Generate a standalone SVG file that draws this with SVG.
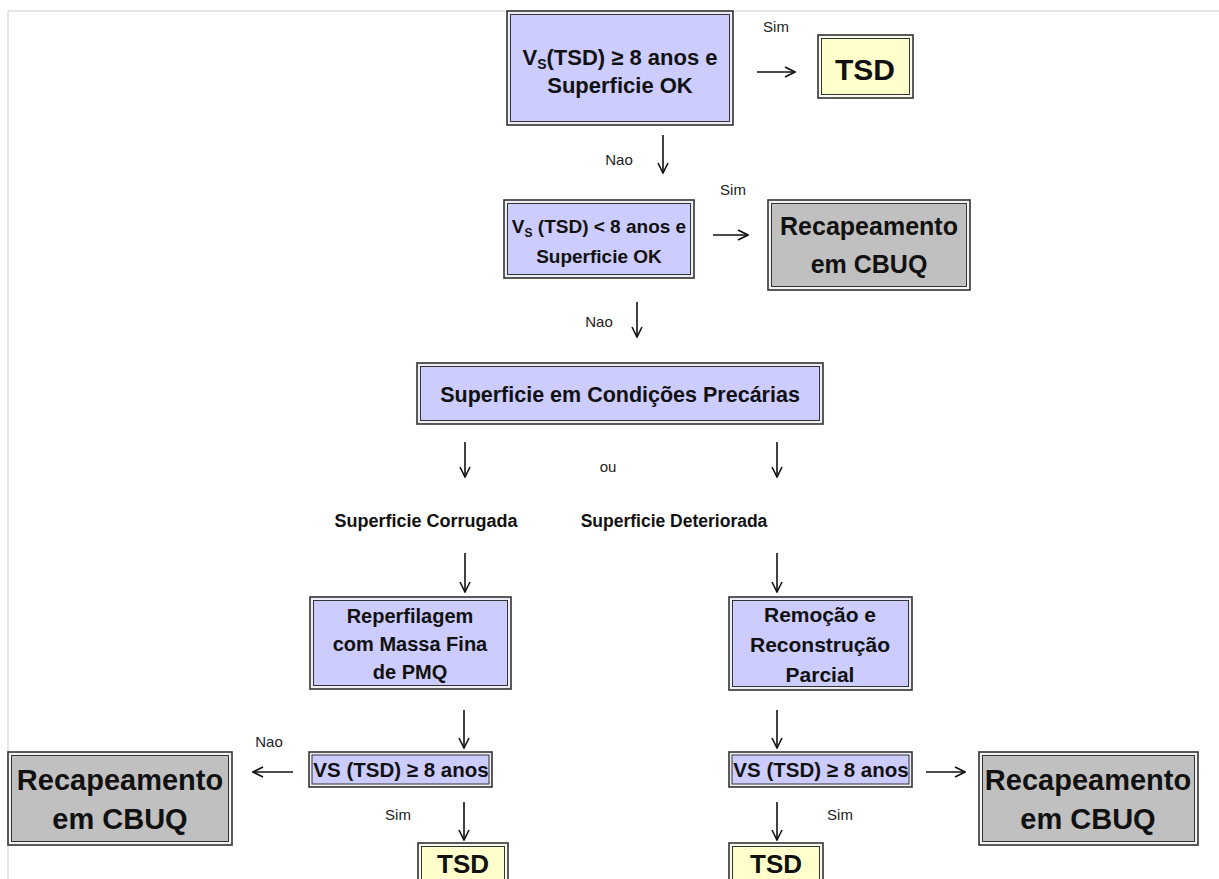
<svg xmlns="http://www.w3.org/2000/svg" width="1219" height="879" viewBox="0 0 1219 879">
<defs>
<marker id="ah" viewBox="0 0 12 12" refX="11" refY="6" markerWidth="12" markerHeight="12" markerUnits="userSpaceOnUse" orient="auto">
<path d="M1,1 L11,6 L1,11" fill="none" stroke="#111" stroke-width="1.6"/>
</marker>
</defs>
<style>
.o{stroke:#333;stroke-width:1.6;fill:#eeeef6}
.ob{stroke:#333;stroke-width:1.6;fill:#f4f4f4}
.oy{stroke:#333;stroke-width:1.6;fill:#fbfbee}
.ib{stroke:#333;stroke-width:1;fill:#ccccff}
.ig{stroke:#333;stroke-width:1;fill:#c0c0c0}
.iy{stroke:#333;stroke-width:1;fill:#ffffcc}
text{font-family:"Liberation Sans",Arial,sans-serif;fill:#111}
.b{font-weight:bold;text-anchor:middle}
.l{font-size:15px;text-anchor:middle;fill:#222}
.c line{stroke:#111;stroke-width:1.6;marker-end:url(#ah)}
</style>
<rect width="1219" height="879" fill="#fff"/>
<path d="M8,879 V11 H1219" fill="none" stroke="#dedede" stroke-width="1.5"/>

<g id="n1">
<rect class="o" x="507" y="11" width="226" height="114"/>
<rect class="ib" x="510.5" y="14.5" width="219" height="107"/>
<text class="b" x="620" y="65" font-size="22">V<tspan font-size="14" dy="4">S</tspan><tspan dy="-4">(TSD) ≥ 8 anos e</tspan></text>
<text class="b" x="620" y="93" font-size="22">Superficie OK</text>
</g>
<g id="n_tsd1">
<rect class="oy" x="818" y="35" width="95" height="63"/>
<rect class="iy" x="821.5" y="38.5" width="88" height="56"/>
<text class="b" x="865" y="80" font-size="30">TSD</text>
</g>
<g id="n2">
<rect class="o" x="504" y="200" width="190" height="78"/>
<rect class="ib" x="507.5" y="203.5" width="183" height="71"/>
<text class="b" x="599" y="233" font-size="19">V<tspan font-size="12" dy="4">S</tspan><tspan dy="-4"> (TSD) &lt; 8 anos e</tspan></text>
<text class="b" x="599" y="263" font-size="19">Superficie OK</text>
</g>
<g id="n_rec1">
<rect class="ob" x="768" y="200" width="202" height="90"/>
<rect class="ig" x="771.5" y="203.5" width="195" height="83"/>
<text class="b" x="869" y="235" font-size="25">Recapeamento</text>
<text class="b" x="869" y="273" font-size="25">em CBUQ</text>
</g>
<g id="n3">
<rect class="o" x="417" y="363" width="406" height="61"/>
<rect class="ib" x="420.5" y="366.5" width="399" height="54"/>
<text class="b" x="620" y="402" font-size="21.5">Superficie em Condições Precárias</text>
</g>
<g id="lab_corr">
<text class="b" x="426" y="527" font-size="18">Superficie Corrugada</text>
</g>
<g id="lab_det">
<text class="b" x="674" y="527" font-size="17.5">Superficie Deteriorada</text>
</g>
<g id="n4">
<rect class="o" x="310" y="597" width="201" height="92"/>
<rect class="ib" x="313.5" y="600.5" width="194" height="85"/>
<text class="b" x="410" y="623" font-size="20">Reperfilagem</text>
<text class="b" x="410" y="651" font-size="20">com Massa Fina</text>
<text class="b" x="410" y="679" font-size="20">de PMQ</text>
</g>
<g id="n5">
<rect class="o" x="729" y="597" width="183" height="93"/>
<rect class="ib" x="732.5" y="600.5" width="176" height="86"/>
<text class="b" x="820" y="622" font-size="21">Remoção e</text>
<text class="b" x="820" y="652" font-size="21">Reconstrução</text>
<text class="b" x="820" y="682" font-size="21">Parcial</text>
</g>
<g id="n_vs_l">
<rect class="o" x="309" y="752" width="183" height="35"/>
<rect class="ib" x="312" y="755" width="177" height="29"/>
<text class="b" x="401" y="777" font-size="20.5">VS (TSD) ≥ 8 anos</text>
</g>
<g id="n_vs_r">
<rect class="o" x="729" y="752" width="183" height="35"/>
<rect class="ib" x="732" y="755" width="177" height="29"/>
<text class="b" x="821" y="777" font-size="20.5">VS (TSD) ≥ 8 anos</text>
</g>
<g id="n_rec_l">
<rect class="ob" x="8" y="752" width="224" height="93"/>
<rect class="ig" x="11.5" y="755.5" width="217" height="86"/>
<text class="b" x="120" y="790" font-size="29">Recapeamento</text>
<text class="b" x="120" y="829" font-size="29">em CBUQ</text>
</g>
<g id="n_rec_r">
<rect class="ob" x="979" y="752" width="219" height="93"/>
<rect class="ig" x="982.5" y="755.5" width="212" height="86"/>
<text class="b" x="1088" y="790" font-size="29">Recapeamento</text>
<text class="b" x="1088" y="829" font-size="29">em CBUQ</text>
</g>
<g id="n_tsd_l">
<rect class="oy" x="418" y="843" width="90" height="50"/>
<rect class="iy" x="421.5" y="846.5" width="83" height="50"/>
<text class="b" x="463" y="873" font-size="26">TSD</text>
</g>
<g id="n_tsd_r">
<rect class="oy" x="729" y="843" width="94" height="50"/>
<rect class="iy" x="732.5" y="846.5" width="87" height="50"/>
<text class="b" x="776" y="873" font-size="26">TSD</text>
</g>

<g id="connectors" class="c">
<line x1="757" y1="72" x2="795" y2="72"/>
<line x1="663" y1="135" x2="663" y2="173"/>
<line x1="713" y1="235" x2="748" y2="235"/>
<line x1="637" y1="302" x2="637" y2="337"/>
<line x1="465" y1="442" x2="465" y2="477"/>
<line x1="777" y1="442" x2="777" y2="477"/>
<line x1="465" y1="553" x2="465" y2="592"/>
<line x1="777" y1="553" x2="777" y2="592"/>
<line x1="464" y1="710" x2="464" y2="748"/>
<line x1="777" y1="710" x2="777" y2="748"/>
<line x1="464" y1="802" x2="464" y2="840"/>
<line x1="777" y1="802" x2="777" y2="840"/>
<line x1="293" y1="772" x2="253" y2="772"/>
<line x1="926" y1="772" x2="965" y2="772"/>
</g>
<g id="labels">
<text class="l" x="776" y="32">Sim</text>
<text class="l" x="619" y="165">Nao</text>
<text class="l" x="733" y="195">Sim</text>
<text class="l" x="599" y="327">Nao</text>
<text class="l" x="608" y="472">ou</text>
<text class="l" x="269" y="747">Nao</text>
<text class="l" x="398" y="820">Sim</text>
<text class="l" x="840" y="820">Sim</text>
</g>
</svg>
